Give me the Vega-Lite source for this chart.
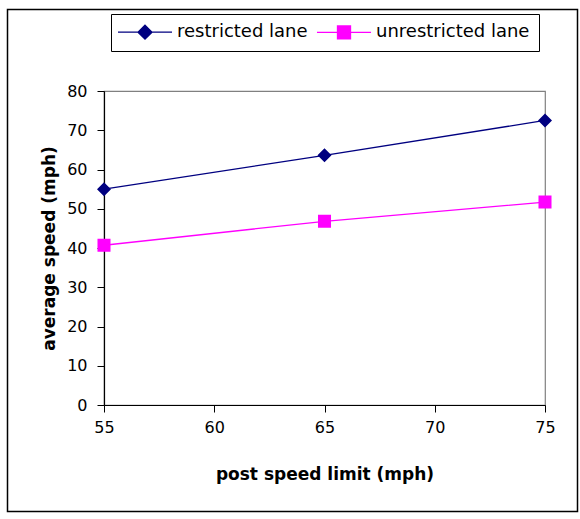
{
  "$schema": "https://vega.github.io/schema/vega-lite/v6.json",
  "width": 441,
  "height": 314,
  "autosize": {"type": "none"},
  "padding": {"top": 91, "left": 104, "right": 35, "bottom": 114},
  "background": "white",
  "config": {
    "font": "DejaVu Sans",
    "view": {"stroke": "#808080", "strokeWidth": 1.2},
    "axis": {
      "domainColor": "black",
      "domainWidth": 1.2,
      "tickColor": "black",
      "tickWidth": 1,
      "tickSize": 7,
      "grid": false,
      "labelFont": "DejaVu Sans",
      "labelFontSize": 16,
      "labelColor": "black",
      "labelFlush": false,
      "labelOverlap": false,
      "titleFont": "DejaVu Sans",
      "titleFontSize": 17,
      "titleFontWeight": "bold",
      "titleColor": "black"
    },
    "legend": {
      "orient": "none",
      "legendX": 7,
      "legendY": -77,
      "direction": "horizontal",
      "strokeColor": "black",
      "fillColor": "white",
      "padding": 9,
      "columnPadding": 6,
      "labelFont": "DejaVu Sans",
      "labelFontSize": 18,
      "labelColor": "black",
      "labelLimit": 300,
      "symbolSize": 196,
      "symbolOffset": 16,
      "labelOffset": 23,
      "symbolOpacity": 1,
      "symbolStrokeWidth": 1.3
    }
  },
  "data": {
    "values": [
      {"limit": 55, "lane": "restricted lane", "speed": 55.0},
      {"limit": 65, "lane": "restricted lane", "speed": 63.6},
      {"limit": 75, "lane": "restricted lane", "speed": 72.5},
      {"limit": 55, "lane": "unrestricted lane", "speed": 40.7},
      {"limit": 65, "lane": "unrestricted lane", "speed": 46.8},
      {"limit": 75, "lane": "unrestricted lane", "speed": 51.7}
    ]
  },
  "encoding": {
    "x": {
      "field": "limit",
      "type": "quantitative",
      "scale": {"domain": [55, 75], "nice": false, "zero": false},
      "axis": {"values": [55, 60, 65, 70, 75], "title": "post speed limit (mph)", "labelPadding": 7, "titlePadding": 31}
    },
    "y": {
      "field": "speed",
      "type": "quantitative",
      "scale": {"domain": [0, 80], "nice": false},
      "axis": {"values": [0, 10, 20, 30, 40, 50, 60, 70, 80], "title": "average speed (mph)", "labelPadding": 10, "titlePadding": 8}
    },
    "color": {
      "field": "lane",
      "type": "nominal",
      "scale": {"domain": ["restricted lane", "unrestricted lane"], "range": ["#000080", "#ff00ff"]},
      "legend": {
        "title": null,
        "encode": {
          "symbols": {
            "update": {
              "size": {"value": 196},
              "opacity": {"value": 1},
              "fill": {"scale": "color", "field": "value"},
              "stroke": {"scale": "color", "field": "value"},
              "strokeWidth": {"value": 1.3}
            }
          }
        }
      }
    }
  },
  "layer": [
    {
      "data": {"values": [{}]},
      "mark": {"type": "rect", "fill": "transparent", "stroke": "black", "strokeWidth": 1.5},
      "encoding": {
        "x": {"value": -96.5},
        "x2": {"value": 473.5},
        "y": {"value": -81.5},
        "y2": {"value": 420.5},
        "color": {"value": "black"}
      }
    },
    {
      "mark": {"type": "line", "strokeWidth": 1.3}
    },
    {
      "mark": {"type": "point", "filled": true, "opacity": 1, "size": 196, "strokeWidth": 0},
      "encoding": {
        "shape": {
          "field": "lane",
          "type": "nominal",
          "scale": {
            "domain": ["restricted lane", "unrestricted lane"],
            "range": [
              "M-3.86,0H3.86M0,-1L1,0L0,1L-1,0Z",
              "M-3.86,0H3.86M-0.93,-0.93H0.93V0.93H-0.93Z"
            ]
          },
          "legend": null
        }
      }
    }
  ]
}
